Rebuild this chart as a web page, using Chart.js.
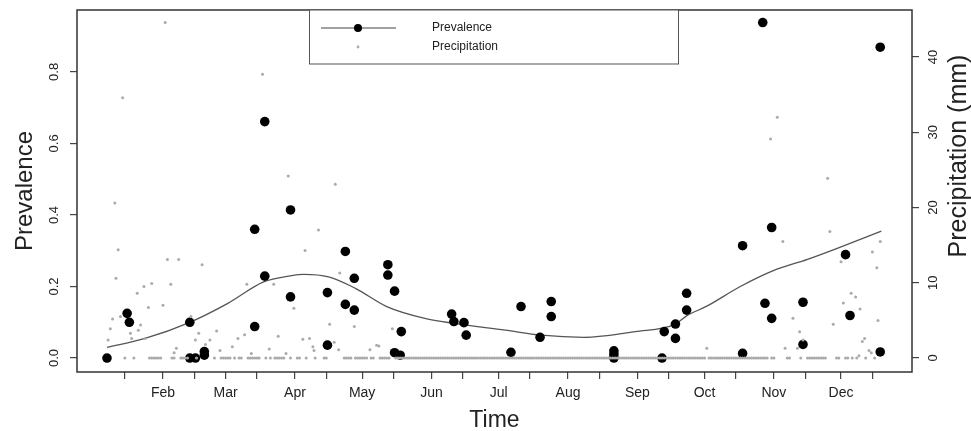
<!DOCTYPE html>
<html>
<head>
<meta charset="utf-8">
<script src="https://cdn.jsdelivr.net/npm/chart.js@4.4.1/dist/chart.umd.min.js"></script>
<style>
  html, body { margin: 0; padding: 0; background: #fff; }
  canvas { display: block; }
</style>
</head>
<body>
<canvas id="chart" width="971" height="431"></canvas>
<script>
// prevalence samples (day of year, prevalence)
const prevDays = [7, 16, 17, 44, 44, 46.5, 50.5, 50.5, 73, 73, 77.5, 77.5, 89, 89, 105.5, 105.5,
  113.5, 117.5, 113.5, 117.5, 132.5, 132.5, 135.5, 138.5, 135.5, 138, 161, 162, 166.5, 167.5,
  187.5, 192, 200.5, 205.5, 205.5, 233.5, 233.5, 233.5, 255, 256, 261, 261, 266, 266,
  291, 291, 300, 301, 304, 304, 318, 318, 337, 339, 352.5, 352.5];
const prevValues = [0.0, 0.125, 0.100, 0.100, 0.0, 0.0, 0.018, 0.008, 0.088, 0.360, 0.661, 0.229, 0.414, 0.171, 0.183, 0.036,
  0.298, 0.223, 0.150, 0.134, 0.261, 0.232, 0.187, 0.074, 0.015, 0.008, 0.123, 0.102, 0.099, 0.064,
  0.016, 0.144, 0.058, 0.158, 0.116, 0.020, 0.010, 0.0, 0.0, 0.074, 0.095, 0.055, 0.134, 0.181,
  0.314, 0.013, 0.938, 0.153, 0.365, 0.111, 0.156, 0.038, 0.289, 0.119, 0.869, 0.017];

// smoothed prevalence curve
const smoothDays = [7, 24, 44, 61, 77, 89, 95, 106, 118, 132, 149, 162, 185, 201, 220, 243, 261, 266, 275, 290, 305, 320, 335, 353];
const smoothValues = [0.030, 0.055, 0.100, 0.153, 0.213, 0.230, 0.234, 0.227, 0.195, 0.144, 0.111, 0.097, 0.078, 0.064,
  0.058, 0.074, 0.095, 0.118, 0.145, 0.200, 0.245, 0.276, 0.311, 0.355];

// daily precipitation (mm), rainy days
const rainDays = [33, 14, 76.5, 10.5, 88, 12, 11, 34, 39, 49.5, 27, 23.5, 35.5, 20.5, 32, 25.5, 13, 9.5, 8.5, 22, 21, 17.5,
  7.5, 18, 24, 44.5, 48, 46.5, 51, 38, 37, 53, 56, 57.5, 63, 65.5, 68.5, 69.5, 81.5, 83.5, 79.5, 71.5, 87,
  109, 101.5, 95.5, 111, 90.5, 106.5, 117.5, 134.5, 94.5, 97.5, 99, 99.5, 108.5, 110.5, 124.5, 127.5, 128.5,
  275, 306.5, 303.5, 329, 330, 309, 352.5, 349, 335, 351, 339.5, 341.5, 336, 343.5, 313.5, 351.5, 331.5,
  316.5, 318, 345.5, 344.5, 310, 315.5, 347.5, 348.5, 343];
const rainMm = [44.6, 34.6, 37.7, 20.6, 24.2, 14.4, 10.6, 13.1, 13.1, 12.4, 9.9, 9.5, 9.8, 8.6, 7.0, 6.7, 5.5, 5.2, 3.9, 4.4, 3.7, 3.3,
  2.4, 2.6, 2.6, 5.5, 3.3, 2.4, 1.8, 1.3, 0.7, 2.4, 3.6, 1.0, 1.5, 2.6, 3.1, 9.8, 9.8, 2.9, 1.2, 0.6, 0.6,
  23.1, 17.0, 14.3, 11.3, 6.6, 4.5, 4.2, 3.9, 2.5, 2.6, 1.5, 1.0, 2.1, 1.1, 1.1, 1.7, 1.6,
  1.3, 32.0, 29.1, 23.9, 16.8, 15.5, 15.5, 14.1, 12.8, 12.0, 8.6, 8.1, 7.3, 6.5, 5.3, 5.0, 4.5,
  3.5, 2.4, 2.6, 2.2, 1.3, 1.3, 1.0, 0.7, 0.3];
// runs of consecutive dry days (0 mm), first and last day
const dryRuns = [[15, 15], [19, 19], [26, 31], [36, 37], [40, 43], [47, 47], [55, 55], [58, 62], [64, 64], [66, 67],
  [70, 75], [78, 78], [80, 80], [82, 86], [89, 89], [92, 93], [96, 96], [100, 100], [104, 105], [113, 116],
  [118, 123], [125, 126], [129, 133], [136, 274], [276, 302], [304, 305], [311, 312], [317, 317], [320, 328],
  [333, 334], [337, 338], [340, 340], [342, 342], [346, 346], [350, 350]];

// axes
const monthTickDays = [15, 32, 46, 60, 74, 91, 105, 121, 135, 152, 166, 182, 196, 213, 227, 244, 258, 274, 288, 305, 319, 335, 349];
const monthTickLabels = ['', 'Feb', '', 'Mar', '', 'Apr', '', 'May', '', 'Jun', '', 'Jul', '', 'Aug', '', 'Sep', '', 'Oct', '', 'Nov', '', 'Dec', ''];
const prevTicks = [0, 0.2, 0.4, 0.6, 0.8];
const prevTickLabels = ['0.0', '0.2', '0.4', '0.6', '0.8'];
const rainTicks = [0, 10, 20, 30, 40];
const rainTickLabels = ['0', '10', '20', '30', '40'];

const FONT = '"Liberation Sans", Arial, Helvetica, sans-serif';

const prevPoints = prevDays.map((d, i) => ({ x: d, y: prevValues[i] }));
const smoothPoints = smoothDays.map((d, i) => ({ x: d, y: smoothValues[i] }));
const rainPoints = rainDays.map((d, i) => ({ x: d, y: rainMm[i] }));
dryRuns.forEach(([a, b]) => {
  for (let d = a; d <= b; d++) rainPoints.push({ x: d, y: 0 });
});

function vText(ctx, str, x, y, font) {
  ctx.save();
  ctx.translate(x, y);
  ctx.rotate(-Math.PI / 2);
  ctx.font = font;
  ctx.textAlign = 'center';
  ctx.textBaseline = 'alphabetic';
  ctx.fillText(str, 0, 0);
  ctx.restore();
}

const decor = {
  id: 'decor',
  afterDraw(chart) {
    const { ctx, chartArea: a, scales } = chart;
    ctx.save();
    ctx.strokeStyle = '#333';
    ctx.lineWidth = 1.5;
    ctx.strokeRect(a.left, a.top, a.right - a.left, a.bottom - a.top);

    ctx.fillStyle = '#222';
    prevTicks.forEach((v, i) => {
      vText(ctx, prevTickLabels[i], a.left - 19, scales.y.getPixelForValue(v), '13px ' + FONT);
    });
    rainTicks.forEach((v, i) => {
      vText(ctx, rainTickLabels[i], a.right + 25, scales.y2.getPixelForValue(v), '13px ' + FONT);
    });

    vText(ctx, 'Prevalence', 32, (a.top + a.bottom) / 2, '24px ' + FONT);
    vText(ctx, 'Precipitation (mm)', 966, 156, '25px ' + FONT);
    ctx.font = '23px ' + FONT;
    ctx.textAlign = 'center';
    ctx.textBaseline = 'alphabetic';
    ctx.fillText('Time', (a.left + a.right) / 2, 427);

    // legend box
    const lx = 309, ly = a.top, lw = 369, lh = 54;
    ctx.fillStyle = '#fff';
    ctx.fillRect(lx, ly, lw, lh);
    ctx.strokeStyle = '#555';
    ctx.lineWidth = 1;
    ctx.strokeRect(lx + 0.5, ly, lw, lh);
    ctx.strokeStyle = '#444';
    ctx.lineWidth = 1.2;
    ctx.beginPath();
    ctx.moveTo(lx + 12, ly + 18);
    ctx.lineTo(lx + 87, ly + 18);
    ctx.stroke();
    ctx.fillStyle = '#000';
    ctx.beginPath();
    ctx.arc(lx + 49, ly + 18, 4, 0, Math.PI * 2);
    ctx.fill();
    ctx.fillStyle = '#aaa';
    ctx.beginPath();
    ctx.arc(lx + 49, ly + 37, 1.4, 0, Math.PI * 2);
    ctx.fill();
    ctx.fillStyle = '#222';
    ctx.font = '12px ' + FONT;
    ctx.textAlign = 'left';
    ctx.textBaseline = 'middle';
    ctx.fillText(chart.data.datasets[1].label, lx + 123, ly + 18);
    ctx.fillText(chart.data.datasets[0].label, lx + 123, ly + 37);
    ctx.restore();
  }
};

new Chart(document.getElementById('chart'), {
  type: 'scatter',
  data: {
    datasets: [
      {
        label: 'Precipitation',
        data: rainPoints,
        yAxisID: 'y2',
        pointRadius: 1.5,
        pointBackgroundColor: '#aaa',
        pointBorderWidth: 0,
        order: 0,
      },
      {
        label: 'Prevalence',
        data: prevPoints,
        yAxisID: 'y',
        pointRadius: 4.8,
        pointBackgroundColor: '#000',
        pointBorderWidth: 0,
        order: 1,
      },
      {
        label: 'smooth',
        data: smoothPoints,
        yAxisID: 'y',
        showLine: true,
        pointRadius: 0,
        borderColor: '#555',
        borderWidth: 1.3,
        tension: 0.4,
        cubicInterpolationMode: 'monotone',
        order: 2,
      },
    ],
  },
  options: {
    responsive: false,
    animation: false,
    devicePixelRatio: 1,
    layout: { padding: { top: 10, left: 0, right: 0, bottom: 0 } },
    plugins: { legend: { display: false }, tooltip: { enabled: false } },
    scales: {
      x: {
        type: 'linear',
        min: -6.4,
        max: 366.7,
        afterBuildTicks: (s) => { s.ticks = monthTickDays.map((v) => ({ value: v })); },
        afterFit: (s) => { s.height = 59; },
        ticks: {
          autoSkip: false,
          maxRotation: 0,
          padding: 6,
          color: '#222',
          font: { family: FONT, size: 14 },
          callback: (v, i) => monthTickLabels[i],
        },
        grid: { display: true, drawOnChartArea: false, drawTicks: true, tickLength: 7, color: '#444', lineWidth: 1.2 },
        border: { display: false },
      },
      y: {
        position: 'left',
        min: -0.039,
        max: 0.973,
        afterBuildTicks: (s) => { s.ticks = prevTicks.map((v) => ({ value: v })); },
        afterFit: (s) => { s.width = 77; },
        ticks: { display: false },
        grid: { display: true, drawOnChartArea: false, drawTicks: true, tickLength: 7, color: '#444', lineWidth: 1.2 },
        border: { display: false },
      },
      y2: {
        position: 'right',
        min: -1.86,
        max: 46.25,
        afterBuildTicks: (s) => { s.ticks = rainTicks.map((v) => ({ value: v })); },
        afterFit: (s) => { s.width = 59; },
        ticks: { display: false },
        grid: { display: true, drawOnChartArea: false, drawTicks: true, tickLength: 7, color: '#444', lineWidth: 1.2 },
        border: { display: false },
      },
    },
  },
  plugins: [decor],
});
</script>
</body>
</html>
